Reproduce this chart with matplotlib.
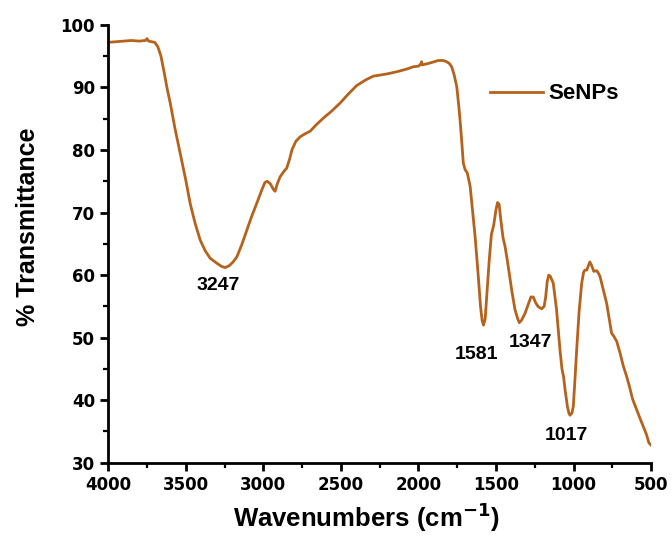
import matplotlib
matplotlib.use("Agg")
import matplotlib.pyplot as plt
import numpy as np
from matplotlib.ticker import MultipleLocator

# FTIR spectrum of SeNPs
wavenumber = [
    4000, 3950, 3900, 3850, 3800, 3760, 3750, 3740, 3700, 3680, 3660, 3640,
    3620, 3600, 3570, 3536, 3500, 3472, 3440, 3407, 3375, 3343, 3300, 3270,
    3246, 3220, 3195, 3171, 3140, 3106, 3075, 3042, 3010, 2990, 2975, 2955,
    2935, 2924, 2910, 2892, 2870, 2849, 2830, 2816, 2790, 2763, 2730, 2698,
    2660, 2613, 2560, 2505, 2450, 2398, 2340, 2291, 2240, 2194, 2140, 2080,
    2033, 2000, 1985, 1980, 1975, 1940, 1900, 1872, 1840, 1818, 1800, 1786,
    1770, 1753, 1740, 1732, 1720, 1711, 1700, 1685, 1667, 1650, 1635, 1615,
    1600, 1590, 1581, 1570, 1560, 1545, 1530, 1515, 1500, 1490, 1480, 1470,
    1455, 1442, 1425, 1399, 1378, 1360, 1350, 1335, 1313, 1290, 1275, 1260,
    1245, 1230, 1206, 1190, 1180, 1170, 1160, 1150, 1131, 1120, 1110, 1098,
    1088, 1075, 1065, 1055, 1040, 1030, 1023, 1010, 1002, 992, 980, 965,
    948, 935, 927, 915, 905, 895, 885, 870, 851, 840, 830, 810,
    787, 770, 755, 740, 722, 700, 680, 658, 640, 620, 594, 575,
    551, 530, 515, 508, 500,
]
transmittance = [
    97.2, 97.3, 97.4, 97.5, 97.4, 97.5, 97.8, 97.4, 97.2, 96.5, 95.0, 92.5,
    89.8, 87.5, 83.5, 79.5, 75.2, 71.5, 68.3, 65.6, 63.9, 62.7, 61.9, 61.4,
    61.2, 61.5, 62.1, 62.9, 64.8, 67.2, 69.4, 71.5, 73.6, 74.8, 75.0, 74.6,
    73.7, 73.4, 74.6, 75.7, 76.5, 77.1, 78.6, 80.0, 81.4, 82.1, 82.6, 83.0,
    84.0, 85.1, 86.2, 87.5, 89.0, 90.3, 91.2, 91.8, 92.0, 92.2, 92.5, 92.9,
    93.3, 93.4, 93.7, 94.1, 93.6, 93.8, 94.1, 94.3, 94.3, 94.1, 93.8, 93.3,
    92.0, 90.1, 87.0, 84.8, 81.0, 77.9, 76.9, 76.3, 74.2, 70.0, 66.2, 60.0,
    55.0, 52.8, 52.0, 53.0, 56.5, 62.0, 66.5, 68.0, 70.5, 71.6, 71.3, 69.0,
    66.0, 64.6, 62.0, 57.6, 54.5, 53.0, 52.4, 52.8, 53.9, 55.5, 56.5, 56.5,
    55.6, 55.0, 54.6, 55.0, 56.5, 59.0, 60.0, 59.8, 58.7, 56.5, 54.5, 51.0,
    48.1, 45.0, 43.8, 41.7, 39.0, 37.9, 37.6, 38.0, 39.0, 43.0, 48.1, 54.0,
    58.7, 60.5, 60.8, 60.8, 61.5, 62.1, 61.6, 60.6, 60.7, 60.3, 59.8, 57.8,
    55.5, 53.0, 50.7, 50.2, 49.4, 47.5, 45.5, 43.8, 42.2, 40.2, 38.5, 37.3,
    35.8, 34.5, 33.2, 33.0, 32.8,
]

# peak labels: text, x, y
peak_labels = ["3247", "1581", "1347", "1017"]
peak_label_x = [3290, 1629, 1281, 1049]
peak_label_y = [58.4, 47.3, 49.2, 34.4]

color = "#B5631C"
plt.rcParams["font.family"] = ["Liberation Sans", "DejaVu Sans"]
plt.rcParams["font.weight"] = "bold"
plt.rcParams["mathtext.default"] = "bf"

fig = plt.figure(figsize=(6.72, 5.40), dpi=100)
ax = fig.add_axes([0.161, 0.143, 0.808, 0.811])

ax.plot(wavenumber, transmittance, color=color, lw=2.0, label="SeNPs")

for txt, x, y in zip(peak_labels, peak_label_x, peak_label_y):
    ax.text(x, y, txt, ha="center", va="center", fontsize=14, fontweight="bold")

ax.set_xlim(4000, 500)
ax.set_ylim(30, 100)
ax.xaxis.set_major_locator(MultipleLocator(500))
ax.xaxis.set_minor_locator(MultipleLocator(250))
ax.yaxis.set_major_locator(MultipleLocator(10))
ax.yaxis.set_minor_locator(MultipleLocator(5))

for s in ["top", "right"]:
    ax.spines[s].set_visible(False)
for s in ["left", "bottom"]:
    ax.spines[s].set_linewidth(2.0)

ax.tick_params(which="major", direction="out", length=6, width=2.0, labelsize=12)
ax.tick_params(which="minor", direction="out", length=3.5, width=1.6)
for lab in ax.get_xticklabels() + ax.get_yticklabels():
    lab.set_fontweight("bold")
    lab.set_family("DejaVu Sans")

ax.set_xlabel("Wavenumbers (cm$^{-1}$)", fontsize=18.5, fontweight="bold")
ax.xaxis.set_label_coords(0.475, -0.085)
ax.set_ylabel("% Transmittance", fontsize=18, fontweight="bold")
ax.yaxis.set_label_coords(-0.125, 0.54)

ax.legend(loc="center left", bbox_to_anchor=(0.703, 0.8425), frameon=False,
          borderpad=0, borderaxespad=0, handlelength=2.4, handletextpad=0.25,
          prop={"weight": "bold", "size": 16})

fig.savefig("out.png", dpi=100)
